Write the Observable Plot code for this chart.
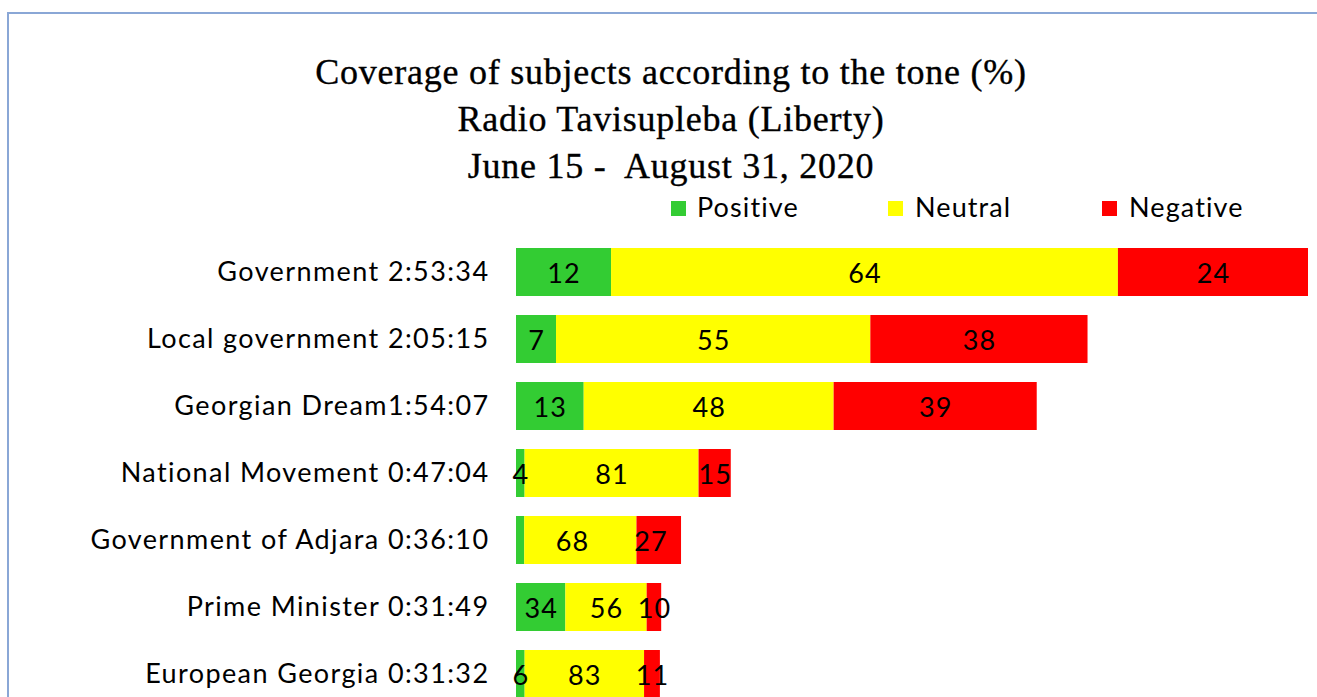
<!DOCTYPE html>
<html>
<head>
<meta charset="utf-8">
<script src="https://cdn.jsdelivr.net/npm/d3@7"></script>
<script src="https://cdn.jsdelivr.net/npm/@observablehq/plot@0.6"></script>
<style>
  html, body { margin: 0; padding: 0; background: #fff; }
  #page { position: relative; width: 1317px; height: 697px; overflow: hidden; background: #fff; }
  #frame { position: absolute; left: 7px; top: 12px; width: 1330px; height: 720px; border-top: 2px solid #8aa7d6; border-left: 2px solid #8aa7d6; box-sizing: border-box; }
  #title { position: absolute; left: 0; width: 1342px; top: 49px; text-align: center; font-family: "Liberation Serif", serif; font-size: 36px; letter-spacing: 0.75px; line-height: 47px; color: #000; white-space: pre; -webkit-text-stroke: 0.35px #000; }
  .leg { position: absolute; top: 190px; font-family: Lato, "Noto Sans", sans-serif; font-size: 27px; letter-spacing: 1.1px; line-height: 34px; color: #000; white-space: pre; }
  .sw { position: absolute; top: 201px; width: 15px; height: 15px; }
  #chart { position: absolute; left: 0; top: 0; }
  #chart svg g[aria-label="y-axis tick label"] { letter-spacing: 1.4px; }
</style>
</head>
<body>
<div id="page">
  <div id="frame"></div>
  <div id="title"></div>
  <div id="legend"></div>
  <div id="chart"></div>
</div>
<script>
const titleLines = ["Coverage of subjects according to the tone (%)", "Radio Tavisupleba (Liberty)", "June 15 -  August 31, 2020"];
const subjects = ["Government 2:53:34", "Local government 2:05:15", "Georgian Dream1:54:07", "National Movement 0:47:04", "Government of Adjara 0:36:10", "Prime Minister 0:31:49", "European Georgia 0:31:32"];
const durations = ["2:53:34", "2:05:15", "1:54:07", "0:47:04", "0:36:10", "0:31:49", "0:31:32"];
const tones = ["Positive", "Neutral", "Negative"];
const toneColors = ["#33cc33", "#ffff00", "#ff0000"];
const positive = [12, 7, 13, 4, 5, 34, 6];
const neutral = [64, 55, 48, 81, 68, 56, 83];
const negative = [24, 38, 39, 15, 27, 10, 11];
const hiddenLabels = [["Government of Adjara 0:36:10", "Positive"]];

const toSecs = s => s.split(":").map(Number).reduce((a, b) => a * 60 + b, 0);
const series = [positive, neutral, negative];
const rows = [];
subjects.forEach((s, i) => {
  const total = toSecs(durations[i]);
  tones.forEach((t, j) => {
    rows.push({subject: s, tone: t, pct: series[j][i], secs: total * series[j][i] / 100});
  });
});
const maxSecs = d3.max(durations, toSecs);
const labelRows = rows.filter(r => !hiddenLabels.some(([s, t]) => s === r.subject && t === r.tone));

document.getElementById("title").textContent = titleLines.join("\n");

const legendPos = [[671, 697], [888, 915], [1102, 1129]];
const legend = document.getElementById("legend");
tones.forEach((t, i) => {
  const sw = document.createElement("div");
  sw.className = "sw"; sw.style.left = legendPos[i][0] + "px"; sw.style.background = toneColors[i];
  legend.appendChild(sw);
  const lb = document.createElement("div");
  lb.className = "leg"; lb.style.left = legendPos[i][1] + "px"; lb.textContent = t;
  legend.appendChild(lb);
});

const plot = Plot.plot({
  width: 1317,
  height: 720,
  marginLeft: 516,
  marginRight: 9,
  marginTop: 238.5,
  marginBottom: 12.5,
  style: {fontFamily: "Lato, 'Noto Sans', sans-serif", fontSize: "27px", letterSpacing: "1.1px", color: "#000", background: "transparent", overflow: "visible"},
  x: {domain: [0, maxSecs], axis: null},
  y: {domain: subjects, paddingInner: 0.2836, paddingOuter: 0.1418, label: null},
  color: {domain: tones, range: toneColors},
  marks: [
    Plot.barX(rows, Plot.stackX({x: "secs", y: "subject", fill: "tone", order: tones})),
    Plot.text(labelRows, Plot.stackX({x: "secs", y: "subject", z: "tone", order: tones, text: "pct", fill: "#000", fontSize: 27, dy: 2})),
    Plot.axisY({tickSize: 0, tickPadding: 27, fontSize: 27, label: null})
  ]
});
document.getElementById("chart").appendChild(plot);
</script>
</body>
</html>
